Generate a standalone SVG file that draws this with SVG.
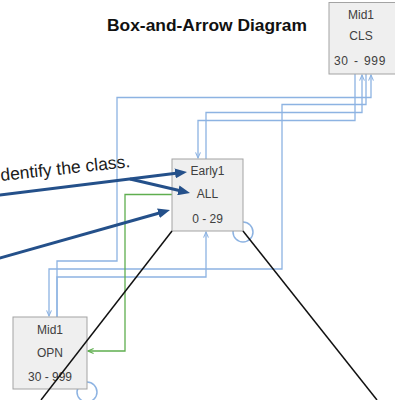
<svg xmlns="http://www.w3.org/2000/svg" width="395" height="400" viewBox="0 0 395 400">
<defs>
<style>
.conn{fill:none;stroke:#8db3e2;stroke-width:1.3}
.green{fill:none;stroke:#5fae4f;stroke-width:1.3}
.loop{fill:none;stroke:#8db3e2;stroke-width:1.5}
.box{fill:#efefef;stroke:#a3a3a3;stroke-width:1}
.lbl{font-family:"Liberation Sans",Arial,sans-serif;font-size:12px;fill:#404040;text-anchor:middle}
.navy{fill:none;stroke:#24508a;stroke-width:3}
.black{fill:none;stroke:#111;stroke-width:1.5}
.title{font-family:"Liberation Sans",Arial,sans-serif;font-size:17.4px;font-weight:bold;fill:#111;text-anchor:middle}
.note{font-family:"Liberation Sans",Arial,sans-serif;font-size:17.5px;fill:#1a1a1a}
</style>
<marker id="ab" viewBox="0 0 10 10" refX="9" refY="5" markerUnits="userSpaceOnUse" markerWidth="7" markerHeight="7" orient="auto"><path d="M1,1.5 L9,5 L1,8.5" fill="none" stroke="#8db3e2" stroke-width="1.5"/></marker>
<marker id="ag" viewBox="0 0 10 10" refX="9" refY="5" markerUnits="userSpaceOnUse" markerWidth="7" markerHeight="7" orient="auto"><path d="M1,1.5 L9,5 L1,8.5" fill="none" stroke="#5fae4f" stroke-width="1.5"/></marker>
<marker id="an" viewBox="0 0 12 10" refX="1" refY="5" markerUnits="userSpaceOnUse" markerWidth="12" markerHeight="10" orient="auto"><path d="M0,0 L12,5 L0,10 z" fill="#24508a"/></marker>
</defs>

<text class="title" x="207" y="31">Box-and-Arrow Diagram</text>

<g id="connectors">
<path class="conn" d="M355,74 V120.5 H198 V158" marker-end="url(#ab)"/>
<path class="conn" d="M206,159 V112.5 H362 V75" marker-end="url(#ab)"/>
<path class="conn" d="M57,317 V261 H117 V97.5 H371 V75" marker-end="url(#ab)"/>
<path class="conn" d="M366,74 V104.5 H282 V269 H49 V316" marker-end="url(#ab)"/>
<path class="conn" d="M57,317 V277 H206 V232" marker-end="url(#ab)"/>
<path class="green" d="M172,194.5 H125 V351 H88" marker-end="url(#ag)"/>
<circle class="loop" cx="243" cy="232" r="10"/>
<circle class="loop" cx="87" cy="392" r="10"/>
</g>

<g id="node-mid1-cls">
<rect class="box" x="329" y="2.5" width="68" height="71.5"/>
<text class="lbl" x="361" y="18.5">Mid1</text>
<text class="lbl" x="361" y="40">CLS</text>
<text class="lbl" x="360" y="65" letter-spacing="0.6" word-spacing="1.5">30 - 999</text>
</g>

<g id="node-early1-all">
<rect class="box" x="172" y="159" width="71" height="72"/>
<text class="lbl" x="207.5" y="175">Early1</text>
<text class="lbl" x="207.5" y="198">ALL</text>
<text class="lbl" x="207.5" y="222.5">0 - 29</text>
</g>

<g id="node-mid1-opn">
<rect class="box" x="13" y="317" width="74" height="72"/>
<text class="lbl" x="50" y="333.5">Mid1</text>
<text class="lbl" x="50" y="356.5">OPN</text>
<text class="lbl" x="50" y="380.5">30 - 999</text>
</g>

<g id="lines">
<line class="black" x1="172" y1="231" x2="41" y2="400"/>
<line class="black" x1="243" y1="231" x2="377" y2="400"/>
</g>

<g id="annotation">
<text class="note" transform="translate(1,181) rotate(-6.2)">dentify the class.</text>
<line class="navy" x1="-10" y1="196.2" x2="176.1" y2="173.3" marker-end="url(#an)"/>
<line class="navy" x1="130" y1="179" x2="179.3" y2="190.5" marker-end="url(#an)"/>
<line class="navy" x1="-10" y1="260.8" x2="159.4" y2="213" marker-end="url(#an)"/>
</g>
</svg>
